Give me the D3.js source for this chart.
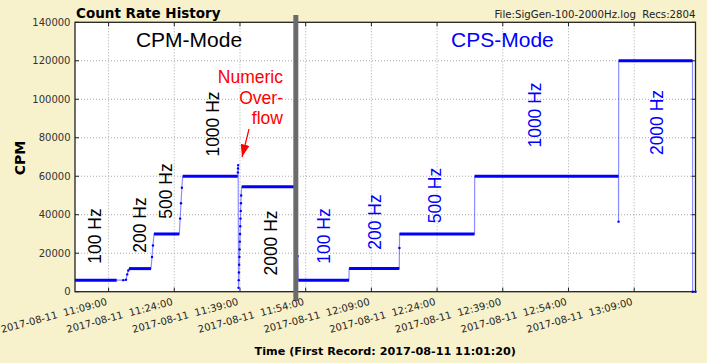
<!DOCTYPE html>
<html>
<head>
<meta charset="utf-8">
<script src="https://cdn.jsdelivr.net/npm/d3@7"></script>
<style>
  body { margin: 0; background: #f8f2cc; }
  svg { display: block; }
  .ytick { font: 10px "DejaVu Sans"; fill: #333; text-anchor: end; }
  .xtick { font: 10px "DejaVu Sans"; fill: #222; text-anchor: end; }
  .grid { stroke: #a8a8a8; stroke-width: 1; stroke-dasharray: 1,2; }
  .mode { font: 21px "Liberation Sans", Arial, sans-serif; text-anchor: middle; }
  .freq { font: 17.5px "Liberation Sans", Arial, sans-serif; text-anchor: middle; }
</style>
</head>
<body>
<svg id="chart" width="707" height="363"></svg>
<script>
/* values (times on 2017-08-11, counts in CPM) */
var day = "2017-08-11 "
var timeRange = ["11:01:20", "13:23:00"]
var xTicks = ["11:09:00", "11:24:00", "11:39:00", "11:54:00", "12:09:00",
              "12:24:00", "12:39:00", "12:54:00", "13:09:00"]
var yTicks = [0, 20000, 40000, 60000, 80000, 100000, 120000, 140000]

// steady runs of records: [start, end, value]
var cpmSteps = [
  ["11:01:20", "11:10:51", 6000],
  ["11:13:40", "11:18:41", 12000],
  ["11:19:22", "11:25:09", 30000],
  ["11:25:55", "11:38:29", 60000],
  ["11:39:24", "11:51:20", 54500]
]
var cpsSteps = [
  ["11:52:19", "12:03:53", 6000],
  ["12:03:55", "12:15:22", 12000],
  ["12:15:26", "12:32:33", 30000],
  ["12:32:35", "13:05:25", 60000],
  ["13:05:28", "13:22:19", 120000]
]
// single records in between
var cpmDots = [
  ["11:12:22", 6000], ["11:12:59", 6200], ["11:13:15", 9000], ["11:13:30", 11000],
  ["11:18:55", 18000], ["11:19:08", 24000],
  ["11:25:20", 38000], ["11:25:32", 46000], ["11:25:44", 54000],
  ["11:38:31", 62000], ["11:38:33", 64000], ["11:38:35", 65800],
  ["11:38:40", 2000], ["11:38:43", 6000], ["11:38:46", 10000], ["11:38:49", 14000],
  ["11:38:52", 18000], ["11:38:55", 22000], ["11:38:58", 26000], ["11:39:01", 30000],
  ["11:39:04", 34000], ["11:39:07", 38000], ["11:39:10", 42000], ["11:39:13", 46000],
  ["11:39:16", 50000]
]
var cpsDots = [
  ["11:52:10", 18500],
  ["12:15:24", 22700],
  ["13:05:26", 36400],
  ["13:22:21", 0], ["13:23:00", 0]
]

// text placed in data coordinates: [time, value, label]
var cpmLabels = [
  ["11:05:54", 28950, "100 Hz"], ["11:16:10", 34660, "200 Hz"],
  ["11:22:07", 52330, "500 Hz"], ["11:32:51", 87150, "1000 Hz"],
  ["11:46:05", 25310, "2000 Hz"]
]
var cpsLabels = [
  ["11:58:11", 28950, "100 Hz"], ["12:09:49", 36220, "200 Hz"],
  ["12:23:31", 50000, "500 Hz"], ["12:46:21", 91830, "1000 Hz"],
  ["13:14:13", 87930, "2000 Hz"]
]
var modeLabels = [["11:27:22", 127330, "CPM-Mode", "#000"], ["12:38:55", 127330, "CPS-Mode", "#0000ff"]]
var overflowText = ["Numeric", "Over-", "flow"]
var overflowAt = ["11:48:49", 108200]
var arrowFrom = ["11:41:04", 84560]
var arrowTo = ["11:39:28", 70000]
var modeSwitch = "11:51:45"

var parseTime = d3.timeParse("%Y-%m-%d %H:%M:%S")
function t(s) { return parseTime(day + s) }

var margin = {left: 75, right: 11.5, top: 22.3, bottom: 71.3}
var W = 707, H = 363

var x = d3.scaleTime()
  .domain(timeRange.map(t))
  .range([margin.left, W - margin.right])
var y = d3.scaleLinear()
  .domain([0, 140000])
  .range([H - margin.bottom, margin.top])

var svg = d3.select("#chart")

svg.append("rect")
  .attr("width", W).attr("height", H).attr("fill", "#f8f2cc")

svg.append("rect")
  .attr("x", margin.left).attr("y", margin.top)
  .attr("width", x.range()[1] - x.range()[0])
  .attr("height", y.range()[0] - y.range()[1])
  .attr("fill", "#fff")

/* grid */
svg.append("g").selectAll("line").data(yTicks.slice(1, -1)).enter()
  .append("line").attr("class", "grid")
  .attr("x1", x.range()[0]).attr("x2", x.range()[1])
  .attr("y1", function(d) { return y(d) }).attr("y2", function(d) { return y(d) })
svg.append("g").selectAll("line").data(xTicks).enter()
  .append("line").attr("class", "grid")
  .attr("x1", function(d) { return x(t(d)) }).attr("x2", function(d) { return x(t(d)) })
  .attr("y1", y.range()[1]).attr("y2", y.range()[0])

/* data: thin line through every record, thick runs, single dots */
function series(steps, dots) {
  var pts = []
  steps.forEach(function(s) { pts.push([t(s[0]), s[2]]); pts.push([t(s[1]), s[2]]) })
  dots.forEach(function(d) { pts.push([t(d[0]), d[1]]) })
  pts.sort(function(a, b) { return a[0] - b[0] })
  return pts
}
var line = d3.line().x(function(d) { return x(d[0]) }).y(function(d) { return y(d[1]) })
var dataG = svg.append("g")

;[[cpmSteps, cpmDots], [cpsSteps, cpsDots]].forEach(function(part) {
  dataG.append("path")
    .attr("d", line(series(part[0], part[1])))
    .attr("fill", "none").attr("stroke", "#0000ff")
    .attr("stroke-opacity", 0.45).attr("stroke-width", 1.2)

  dataG.selectAll(null).data(part[0]).enter()
    .append("line")
    .attr("x1", function(d) { return x(t(d[0])) })
    .attr("x2", function(d) { return x(t(d[1])) })
    .attr("y1", function(d) { return y(d[2]) })
    .attr("y2", function(d) { return y(d[2]) })
    .attr("stroke", "#0000ff").attr("stroke-width", 3)

  dataG.selectAll(null).data(part[1]).enter()
    .append("circle")
    .attr("cx", function(d) { return x(t(d[0])) })
    .attr("cy", function(d) { return y(d[1]) })
    .attr("r", 1.2).attr("fill", "#0000ff")
})

/* annotations */
svg.append("g").selectAll("text").data(modeLabels).enter()
  .append("text").attr("class", "mode")
  .attr("x", function(d) { return x(t(d[0])) })
  .attr("y", function(d) { return y(d[1]) })
  .attr("fill", function(d) { return d[3] })
  .text(function(d) { return d[2] })

function freqLabels(list, color) {
  svg.append("g").selectAll("text").data(list).enter()
    .append("text").attr("class", "freq")
    .attr("transform", function(d) {
      return "translate(" + x(t(d[0])) + "," + y(d[1]) + ") rotate(-90)"
    })
    .attr("dy", "0.35em")
    .attr("fill", color)
    .text(function(d) { return d[2] })
}
freqLabels(cpmLabels, "#000")
freqLabels(cpsLabels, "#0000ff")

var ov = svg.append("text")
  .attr("x", x(t(overflowAt[0]))).attr("y", y(overflowAt[1]))
  .attr("text-anchor", "end").attr("fill", "#ff0000")
  .style("font", '17.5px "Liberation Sans", Arial, sans-serif')
ov.selectAll("tspan").data(overflowText).enter()
  .append("tspan")
  .attr("x", x(t(overflowAt[0])))
  .attr("dy", function(d, i) { return i == 0 ? 0 : 20.3 })
  .text(function(d) { return d })

svg.append("defs").append("marker")
  .attr("id", "head").attr("markerUnits", "userSpaceOnUse")
  .attr("markerWidth", 13).attr("markerHeight", 9)
  .attr("refX", 12.5).attr("refY", 4.5).attr("orient", "auto")
  .append("path").attr("d", "M0,0 L12.5,4.5 L0,9 Z").attr("fill", "#ff0000")
svg.append("line")
  .attr("x1", x(t(arrowFrom[0]))).attr("y1", y(arrowFrom[1]))
  .attr("x2", x(t(arrowTo[0]))).attr("y2", y(arrowTo[1]))
  .attr("stroke", "#ff0000").attr("stroke-width", 1.2)
  .attr("marker-end", "url(#head)")

/* frame and inward ticks */
var x0 = x.range()[0], x1 = x.range()[1], y0 = y.range()[0], y1 = y.range()[1]
var tk = svg.append("g").attr("stroke", "#222").attr("stroke-width", 1)
yTicks.forEach(function(v) {
  tk.append("line").attr("x1", x0).attr("x2", x0 + 4).attr("y1", y(v)).attr("y2", y(v))
  tk.append("line").attr("x1", x1 - 4).attr("x2", x1).attr("y1", y(v)).attr("y2", y(v))
})
xTicks.forEach(function(s) {
  tk.append("line").attr("x1", x(t(s))).attr("x2", x(t(s))).attr("y1", y0).attr("y2", y0 - 4)
  tk.append("line").attr("x1", x(t(s))).attr("x2", x(t(s))).attr("y1", y1).attr("y2", y1 + 4)
})
svg.append("rect")
  .attr("x", x0).attr("y", y1).attr("width", x1 - x0).attr("height", y0 - y1)
  .attr("fill", "none").attr("stroke", "#222").attr("stroke-width", 1.3)

/* mode switch bar */
svg.append("line")
  .attr("x1", x(t(modeSwitch))).attr("x2", x(t(modeSwitch)))
  .attr("y1", 15).attr("y2", 301)
  .attr("stroke", "#6b6b6b").attr("stroke-width", 5)

/* tick labels */
svg.append("g").selectAll("text").data(yTicks).enter()
  .append("text").attr("class", "ytick")
  .attr("x", x0 - 4.5).attr("y", function(d) { return y(d) }).attr("dy", "0.35em")
  .text(function(d) { return d })

var fmt = d3.timeFormat("%Y-%m-%d  %H:%M:%S")
svg.append("g").selectAll("text").data(xTicks).enter()
  .append("text").attr("class", "xtick")
  .attr("xml:space", "preserve")
  .attr("transform", function(d) { return "translate(" + (x(t(d)) - 1) + "," + (y0 + 13) + ") rotate(-15)" })
  .style("white-space", "pre")
  .text(function(d) { return fmt(t(d)) })

/* titles */
svg.append("text")
  .attr("x", x0 + 1).attr("y", 18.3)
  .style("font", 'bold 13.5px "DejaVu Sans"')
  .text("Count Rate History")
svg.append("text")
  .attr("x", x1).attr("y", 17.7).attr("text-anchor", "end")
  .style("font", '10.2px "DejaVu Sans"').style("white-space", "pre").attr("fill", "#222")
  .text("File:SigGen-100-2000Hz.log  Recs:2804")
svg.append("text")
  .attr("x", (x0 + x1) / 2).attr("y", 355).attr("text-anchor", "middle")
  .style("font", 'bold 11.2px "DejaVu Sans"')
  .text("Time (First Record: 2017-08-11 11:01:20)")
svg.append("text")
  .attr("transform", "translate(25," + ((y0 + y1) / 2 + 1) + ") rotate(-90)")
  .attr("text-anchor", "middle")
  .style("font", 'bold 14px "DejaVu Sans"')
  .text("CPM")
</script>
</body>
</html>
